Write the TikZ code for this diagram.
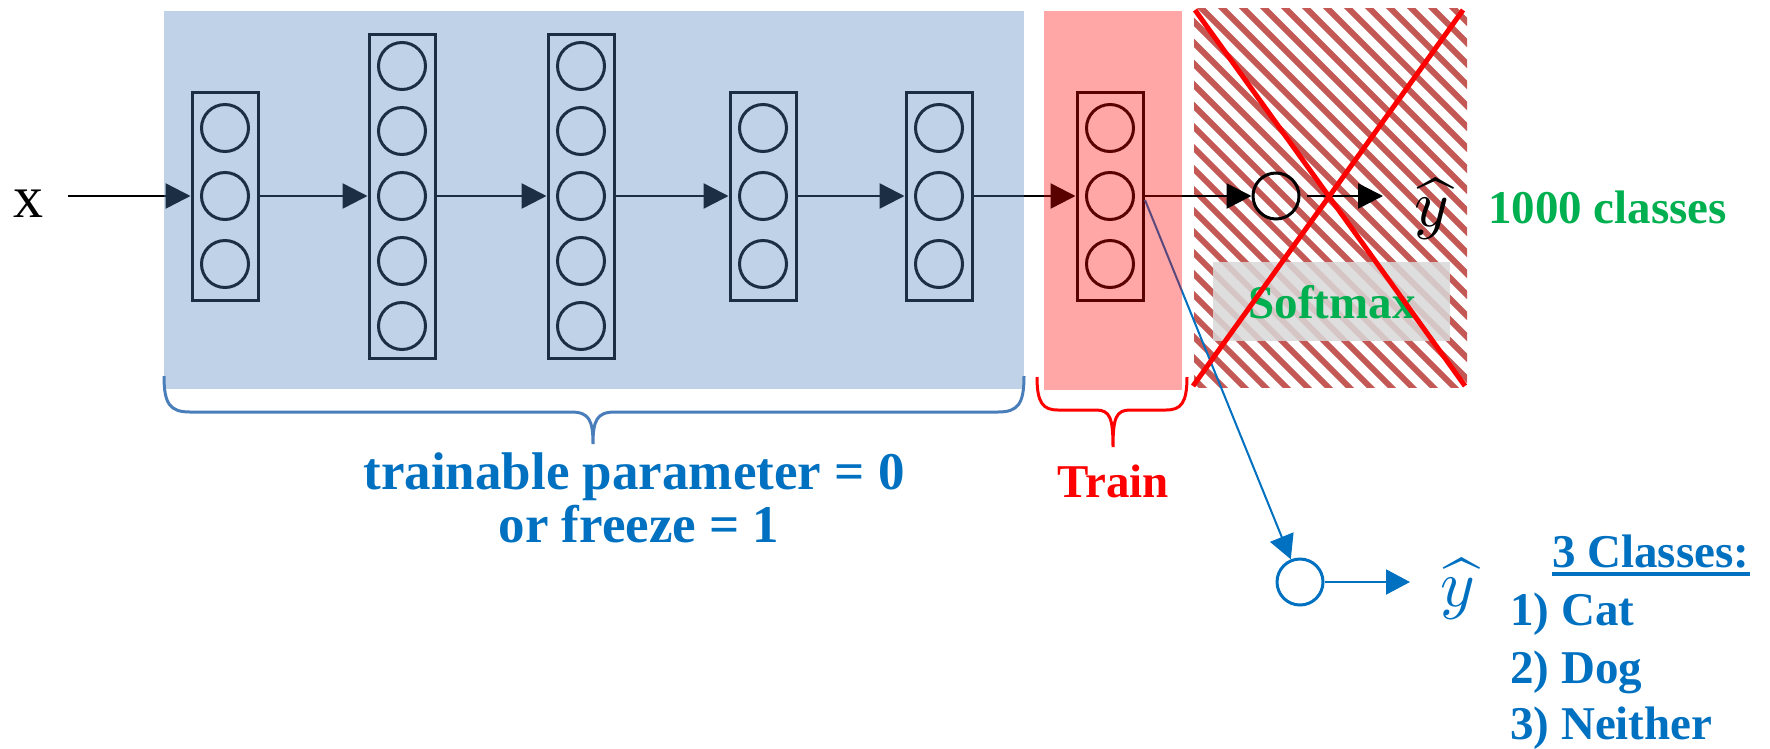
\documentclass[tikz,border=0pt]{standalone}
\usepackage{graphicx}
\usepackage{fontspec}
\setmainfont{Liberation Serif}
\usetikzlibrary{arrows.meta}
\definecolor{ovblue}{RGB}{79,129,189}
\definecolor{hatchred}{RGB}{196,88,85}
\definecolor{txtblue}{RGB}{0,112,192}
\definecolor{txtgreen}{RGB}{0,176,80}
\definecolor{bracecol}{RGB}{74,126,187}
\definecolor{softgray}{RGB}{217,217,217}
\newcommand{\bigyhat}{\scalebox{6.6}{$\widehat{y}$}}
\begin{document}
\begin{tikzpicture}[x=1pt,y=-1pt,
  neuron/.style={circle,draw=black,line width=3pt,minimum size=47pt,inner sep=0pt},
  layerbox/.style={draw=black,line width=3pt,minimum width=66pt,inner sep=0pt},
  conn/.style={-{Triangle[length=25pt,width=25pt]},line width=2.5pt},
  bconn/.style={-{Triangle[length=24pt,width=25pt]},line width=2pt,draw=txtblue,color=txtblue},
  lbl/.style={inner sep=0pt,font=\bfseries\fontsize{47}{56}\selectfont},
  biglbl/.style={inner sep=0pt,font=\bfseries\fontsize{53}{60}\selectfont},
  hatlbl/.style={inner sep=0pt},
  ]
\useasboundingbox (0,0) rectangle (1770,748);

% hatched softmax region
\begin{scope}
  \clip (1194,8) rectangle (1467,387);
  \fill[white] (1194,8) rectangle (1467,387);
  \foreach \c in {773,794,...,1480} \draw[hatchred,line width=6pt] (\c,0) -- ++(420,420);
\end{scope}
\fill[softgray,opacity=0.85] (1213,262) rectangle (1450,341);

% layers
\node[layerbox,minimum height=208pt] (L1) at (225,196) {};
\foreach \i/\y in {1/128,2/196,3/264} \node[neuron] (L1n\i) at (225,\y) {};
\node[layerbox,minimum height=324pt] (L2) at (402,196) {};
\foreach \i/\y in {1/66,2/131,3/196,4/261,5/326} \node[neuron] (L2n\i) at (402,\y) {};
\node[layerbox,minimum height=324pt] (L3) at (581,196) {};
\foreach \i/\y in {1/66,2/131,3/196,4/261,5/326} \node[neuron] (L3n\i) at (581,\y) {};
\node[layerbox,minimum height=208pt] (L4) at (763,196) {};
\foreach \i/\y in {1/128,2/196,3/264} \node[neuron] (L4n\i) at (763,\y) {};
\node[layerbox,minimum height=208pt] (L5) at (939,196) {};
\foreach \i/\y in {1/128,2/196,3/264} \node[neuron] (L5n\i) at (939,\y) {};
\node[layerbox,minimum height=208pt] (P) at (1110,196) {};
\foreach \i/\y in {1/128,2/196,3/264} \node[neuron] (Pn\i) at (1110,\y) {};

\node[neuron,minimum size=46pt] (sm) at (1276,196) {};

% connectors
\coordinate (xin) at (68,196);
\draw[conn] (xin) -- (L1.west);
\draw[conn] (L1.east) -- (L2.west);
\draw[conn] (L2.east) -- (L3.west);
\draw[conn] (L3.east) -- (L4.west);
\draw[conn] (L4.east) -- (L5.west);
\draw[conn] (L5.east) -- (P.west);
\draw[conn] (P.east) -- (sm.west);
\coordinate (smout) at (1307,196);
\coordinate (smend) at (1383,196);
\draw[conn] (smout) -- (smend);

% new head
\node[circle,draw=txtblue,line width=3pt,minimum size=46pt,inner sep=0pt] (c2) at (1300,582) {};
\coordinate (bstart) at (1145,200);
\draw[bconn] (bstart) -- (c2);
\coordinate (c2end) at (1410,582);
\draw[bconn] (c2.east) -- (c2end);

% overlays
\fill[ovblue,opacity=0.36] (164,11) rectangle (1024,389);
\fill[red,opacity=0.35] (1044,11) rectangle (1182,390);

% texts
\node[lbl,text=txtgreen,anchor=base] (soft) at (1332,318) {Softmax};

% red cross
\draw[red,line width=5pt] (1195,10) -- (1465,386);
\draw[red,line width=5pt] (1463,10) -- (1193,386);

\node[inner sep=0pt,anchor=base,font=\fontsize{60}{62}\selectfont] (xlbl) at (28,217) {x};
\node[hatlbl,anchor=base] (yhat1) at (1432,226) {\bigyhat};
\node[lbl,text=txtgreen,anchor=base west] (thou) at (1488,223) {1000 classes};
\node[biglbl,text=txtblue,anchor=base] (tp1) at (634,489) {trainable parameter = 0};
\node[biglbl,text=txtblue,anchor=base] (tp2) at (639,542) {or freeze = 1};
\node[lbl,text=red,anchor=base] (train) at (1113,497) {Train};
\node[hatlbl,anchor=base,text=txtblue] (yhat2) at (1458,606) {\bigyhat};
\node[lbl,text=txtblue,anchor=base west] (cls) at (1552,567) {3 Classes:};
\draw[txtblue,line width=3.5pt] ([yshift=-7pt]cls.base west) -- ([yshift=-7pt]cls.base east);
\node[lbl,text=txtblue,anchor=base west] (cat) at (1510,625) {1) Cat};
\node[lbl,text=txtblue,anchor=base west] (dog) at (1510,683) {2) Dog};
\node[lbl,text=txtblue,anchor=base west] (nei) at (1510,739) {3) Neither};

% braces
\draw[bracecol,line width=3pt] (164,376) .. controls (164,404) and (170,412) .. (190,412) -- (571,412) .. controls (589,412) and (593,420) .. (593,444)
  .. controls (593,420) and (597,412) .. (615,412) -- (998,412) .. controls (1018,412) and (1024,404) .. (1024,376);
\draw[red,line width=3pt] (1037,377) .. controls (1037,403) and (1043,410) .. (1058,410) -- (1096,410) .. controls (1110,410) and (1113,418) .. (1113,447)
  .. controls (1113,418) and (1116,410) .. (1130,410) -- (1166,410) .. controls (1181,410) and (1187,403) .. (1187,377);
\end{tikzpicture}
\end{document}
